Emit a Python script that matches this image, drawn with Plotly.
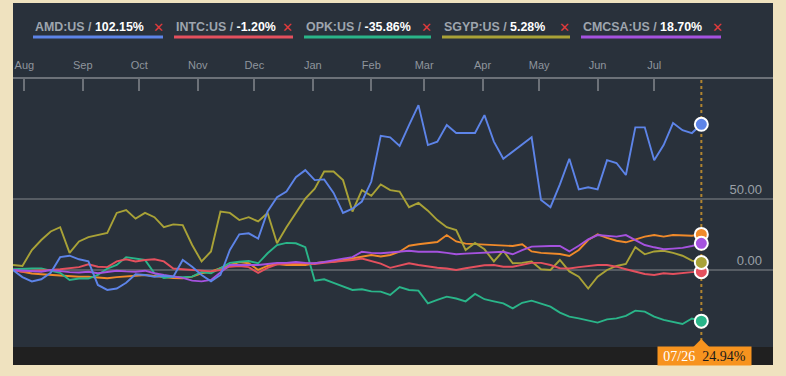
import pandas as pd
import plotly.graph_objects as go

# ---- data (percent change since 2016-07-26, sampled every 5 days) ----
dates = pd.date_range("2016-07-26", "2017-07-26", freq="5D")

amd = [0, -5, -8, -6.5, -2, 9, 10, 7.5, 6, -10.5, -14, -13, -9, -3, -3.5, -4.7, -4, -4.7, 7, 2.3,
       -3.5, -8, -3.5, 14, 25, 25.7, 22, 41, 51, 55, 65, 70, 63, 63.5, 54, 40, 43, 48, 62, 94,
       93, 87, 101.6, 115.6, 87.6, 90, 101.6, 96, 96, 96, 108.6, 90, 78, 83, 87.6, 93, 49, 44, 60, 78,
       56.5, 58, 56.5, 77, 75, 66.6, 100, 100, 77, 87.6, 103, 98, 96, 102.15]
intc = [0, -1.2, -0.5, -0.5, 0, 0.5, 1, 2, 4, 2.3, 2, 6, 7.5, 6, 7, 7.5, 6, 1, 0.5, 0,
        -0.5, -1, 0, 2.3, 2.8, 2, -2, 1.5, 4, 4.7, 5, 4.7, 4.2, 5, 5.5, 6, 7, 8, 6, 4.5,
        1.5, 3.3, 4.7, 3.5, 2.3, 1.6, 1, 0, 1.2, 2.3, 3.3, 3.5, 2.3, 2.3, 3.5, 5, 5, 3.5, 1.2, 1,
        2, 2.8, 3.5, 3.5, 2.3, 0.5, -1.2, -2.8, -3.5, -2.3, -2.8, -2, -1.5, -1.20]
opk = [0.5, 1, 1, 1, -0.5, -2, -7, -6, -6, -3.5, 1, 3.5, 9, 8, 7, -2.3, -5.6, -4.7, -5, -4.7,
       -1.4, -2.3, 1.6, 5, 5.8, 6.3, 4.7, 11.7, 17.5, 19, 18.7, 16, -7.5, -6.5, -9, -11.7, -14, -13.5, -15, -15.2,
       -17.5, -12, -14, -14.5, -23.4, -21, -18.7, -20, -22, -16.8, -20.5, -22, -23.4, -26.9, -23, -21.5, -23.8, -25.7, -29.9, -32.7,
       -33.9, -35.5, -36.9, -34.6, -33.9, -32.2, -28.5, -29.2, -32.7, -35, -36.4, -37.9, -34, -35.86]
sgyp = [3.5, 2.8, 14, 21, 27, 30, 12, 20, 23, 24.5, 26, 40, 42, 36, 40, 37, 30, 32, 31.5, 17.5,
        6, 13, 41, 40, 35, 37, 34, 40, 18.7, 30, 40, 50, 57, 69, 69, 63, 41, 56, 52, 60,
        56, 55, 44, 47, 41.6, 35, 30, 28, 14, 19, 14.5, 6, 13.5, 4.7, 5, 6, 0.5, 0, 7, -1,
        -4.7, -13, -4.7, 0, 2.8, 4.2, 16, 11, 13, 13.5, 12, 10, 6.5, 5.28]
cmcsa = [0, -0.5, -1, -1.2, 0, -0.8, -1.5, -1.8, -1.2, -2.3, -1.5, -0.5, -1, -1.2, -0.5, -2.3, -3.5, -4.7, -5.5, -7.5,
         -8, -7, -1.5, 3.5, 3.5, 3.5, 3.5, 4.2, 5, 5, 5.6, 5, 4.7, 5.6, 7, 8, 9, 12.8, 12, 11.7,
         12.3, 12.8, 13.5, 12.8, 12.8, 12.8, 12, 11, 11.5, 11.7, 12, 12.6, 12.8, 11, 14, 16.4, 16.8, 16.8, 16.8, 13,
         17, 21.5, 24.5, 24, 23.4, 24.5, 21, 17.5, 15.9, 14.5, 15, 15.5, 16.8, 18.70]
main = [0, -1.5, -2.5, -3, -3.5, -4, -4.5, -4.7, -4.7, -5.5, -5.8, -5, -4.7, -4, -3.5, -4.2, -5, -5.6, -5.8, -4.7,
        -2.3, -1.2, 1.2, 3.5, 5.6, 4.7, 0, 2.8, 4.2, 3.5, 3.5, 3.5, 4.7, 5.6, 5.8, 7, 8, 9, 10.5, 9.5,
        10.5, 12.8, 17, 18, 18.7, 19.6, 24.5, 20, 18.5, 18.2, 17.5, 17.5, 17, 16.8, 18, 13, 12, 11.7, 11.2, 9.8,
        14, 21, 25, 22.5, 20.5, 19.4, 21.5, 23.4, 24.5, 23.4, 24.5, 24, 24, 24.94]

legend_names = ["AMD:US", "INTC:US", "OPK:US", "SGYP:US", "CMCSA:US"]
legend_values = ["102.15%", "-1.20%", "-35.86%", "5.28%", "18.70%"]
month_ticks = pd.date_range("2016-08-01", "2017-07-01", freq="MS")
y_ticks = [0, 50]
y_tick_text = ["0.00", "50.00"]
hover_date = "07/26"
hover_value = "24.94%"

C_AMD, C_INTC, C_OPK, C_SGYP, C_CMCSA, C_MAIN = "#5d84e8", "#e4505e", "#2ab589", "#a9a237", "#a552df", "#f08a2a"
PANEL = "#29313b"
BEIGE = "#efe2bf"
W, H = 786, 376
L, R, T, B = 13, 13, 79, 29
PW, PH = W - L - R, H - T - B

def px_x(p):
    return (p - L) / PW

def px_y(p):
    return (H - B - p) / PH

fig = go.Figure()
series = [(main, C_MAIN), (sgyp, C_SGYP), (opk, C_OPK), (intc, C_INTC), (cmcsa, C_CMCSA), (amd, C_AMD)]
for vals, col in series:
    fig.add_trace(go.Scatter(x=dates, y=vals, mode="lines", line=dict(color=col, width=1.9),
                             hoverinfo="skip", showlegend=False))
# end markers
for vals, col in [(main, C_MAIN), (opk, C_OPK), (intc, C_INTC), (sgyp, C_SGYP), (cmcsa, C_CMCSA), (amd, C_AMD)]:
    fig.add_trace(go.Scatter(x=[dates[-1]], y=[vals[-1]], mode="markers",
                             marker=dict(size=13, color=col, line=dict(color="white", width=2)),
                             hoverinfo="skip", showlegend=False, cliponaxis=False))

shapes = [
    dict(type="rect", xref="paper", yref="paper", x0=0, x1=1, y0=1, y1=px_y(3),
         fillcolor=PANEL, line=dict(width=0), layer="below"),
    dict(type="rect", xref="paper", yref="paper", x0=0, x1=1, y0=px_y(365), y1=0,
         fillcolor="#202020", line=dict(width=0), layer="below"),
    dict(type="line", xref="x", yref="paper", x0=dates[-1], x1=dates[-1], y0=px_y(341), y1=1,
         line=dict(color="#b08430", width=2, dash="dot"), layer="below"),
    dict(type="path", xref="x", yref="paper", xsizemode="pixel", ysizemode="pixel",
         xanchor=dates[-1], yanchor=0, path="M-8,0 L8,0 L0,8 Z",
         fillcolor="#f7931e", line=dict(width=0)),
]

annotations = []
underl = [(33, 163), (174, 293), (304, 431), (442, 570), (581, 721)]
xpos = [158, 287, 426, 564, 717]
cols = [C_AMD, C_INTC, C_OPK, C_SGYP, C_CMCSA]
for name, val, (a, b), xx, col in zip(legend_names, legend_values, underl, xpos, cols):
    shapes.append(dict(type="line", xref="paper", yref="paper", x0=px_x(a), x1=px_x(b),
                       y0=px_y(37), y1=px_y(37), line=dict(color=col, width=3)))
    annotations.append(dict(xref="paper", yref="paper", x=px_x(a), y=px_y(27), xanchor="left",
                            yanchor="middle", showarrow=False,
                            text=f"<b><span style='color:#9ea5ae'>{name} / </span>"
                                 f"<span style='color:#ffffff'>{val}</span></b>",
                            font=dict(family="Liberation Sans, Arial", size=12.4)))
    annotations.append(dict(xref="paper", yref="paper", x=px_x(xx), y=px_y(27), xanchor="center",
                            yanchor="middle", showarrow=False, text="✕",
                            font=dict(family="DejaVu Sans", size=13, color="#e23b3b")))

annotations.append(dict(xref="x", yref="paper", x=dates[-1], y=px_y(356), xanchor="center",
                        yanchor="middle", xshift=3, showarrow=False, width=93, height=18,
                        bgcolor="#f7931e", borderpad=0,
                        text=f"<span style='color:#ffffff'>{hover_date}</span>&nbsp;&nbsp;"
                             f"<span style='color:#1a1a1a'>{hover_value}</span>",
                        font=dict(family="Liberation Serif, Times New Roman", size=14)))

fig.update_layout(
    width=W, height=H,
    margin=dict(l=L, r=R, t=T, b=B, pad=0),
    paper_bgcolor=BEIGE,
    plot_bgcolor=PANEL,
    shapes=shapes,
    annotations=annotations,
    showlegend=False,
    xaxis=dict(
        type="date", side="top", range=["2016-07-26", "2017-09-02"],
        tickvals=month_ticks, tickformat="%b",
        ticks="inside", ticklen=12, tickwidth=1.5, tickcolor="#6c7178",
        showline=True, linecolor="#6c7178", linewidth=2,
        showgrid=False, zeroline=False,
        tickfont=dict(family="Liberation Sans, Arial", size=11, color="#8f959d"),
        ticklabelstandoff=4,
    ),
    yaxis=dict(
        range=[-54, 133.9], side="right", tickvals=y_ticks, ticktext=y_tick_text,
        ticklabelposition="inside top", ticks="", showline=False,
        showgrid=True, gridcolor="#565c63", gridwidth=2, zeroline=False,
        tickfont=dict(family="Liberation Sans, Arial", size=13, color="#9aa0a7"),
        ticklabelstandoff=8,
    ),
)

fig.write_html("out.html", config={"displayModeBar": False},
               post_script=f"document.body.style.margin='0';document.body.style.background='{BEIGE}';")
